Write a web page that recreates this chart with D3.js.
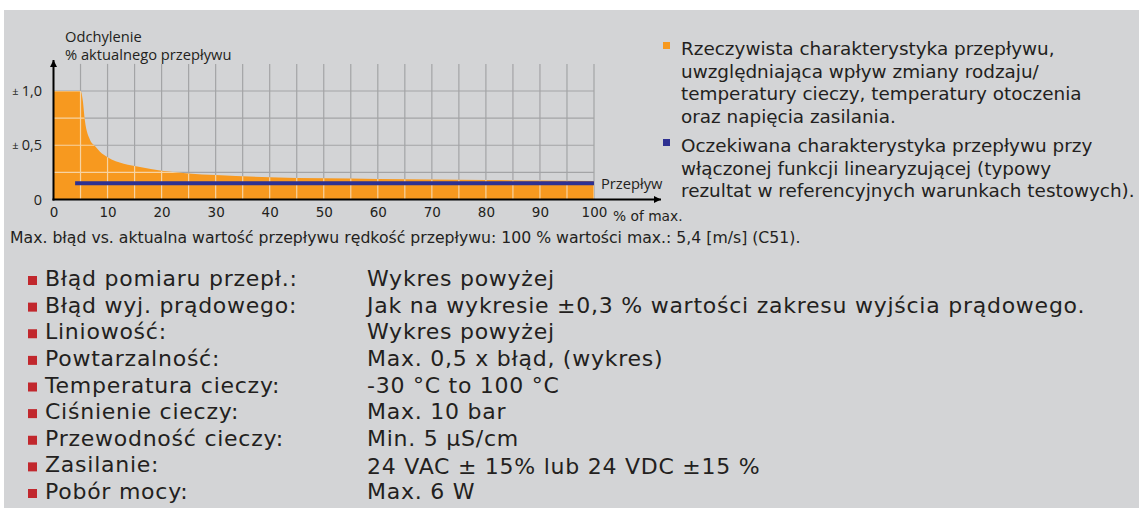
<!DOCTYPE html>
<html>
<head>
<meta charset="utf-8">
<script src="https://cdn.jsdelivr.net/npm/d3@7"></script>
<style>
  html, body { margin: 0; padding: 0; background: #fff; }
  svg { display: block; }
</style>
</head>
<body>
<svg id="chart" width="1139" height="508"></svg>
<script>
const flowPct = [0, 5, 5.4, 5.8, 6.75, 7.7, 8.6, 10, 13, 16, 20, 25, 30, 40, 50, 60, 70, 80, 90, 100];
const deviation = [1, 1, 0.92, 0.73, 0.55, 0.49, 0.44, 0.39, 0.33, 0.3, 0.265, 0.24, 0.225, 0.205, 0.195, 0.19, 0.185, 0.18, 0.175, 0.17];

// linearised characteristic
const linFlow = [4, 100];
const linDev = [0.15, 0.15];

const xTicks = [0, 10, 20, 30, 40, 50, 60, 70, 80, 90, 100];
const yTicks = [0, 0.5, 1];
const yTickLabels = ['0', '0,5', '1,0'];
const gridX = d3.range(5, 101, 5);
const gridY = [0.25, 0.5, 0.75, 1];

const legendItems = [
  { color: '#f7991f', lines: ['Rzeczywista charakterystyka przepływu,', 'uwzględniająca wpływ zmiany rodzaju/', 'temperatury cieczy, temperatury otoczenia', 'oraz napięcia zasilania.'] },
  { color: '#2e3192', lines: ['Oczekiwana charakterystyka przepływu przy', 'włączonej funkcji linearyzującej (typowy', 'rezultat w referencyjnych warunkach testowych).'] },
];

const specLabels = ['Błąd pomiaru przepł.:', 'Błąd wyj. prądowego:', 'Liniowość:', 'Powtarzalność:', 'Temperatura cieczy:', 'Ciśnienie cieczy:', 'Przewodność cieczy:', 'Zasilanie:', 'Pobór mocy:'];
const specValues = ['Wykres powyżej', 'Jak na wykresie ±0,3 % wartości zakresu wyjścia prądowego.', 'Wykres powyżej', 'Max. 0,5 x błąd, (wykres)', '-30 °C to 100 °C', 'Max. 10 bar', 'Min. 5 µS/cm', '24 VAC ± 15% lub 24 VDC ±15 %', 'Max. 6 W'];

const caption = 'Max. błąd vs. aktualna wartość przepływu rędkość przepływu: 100 % wartości max.: 5,4 [m/s] (C51).';

const svg = d3.select('#chart');
const ink = '#231f20';
const chartFont = '"Open Sans", sans-serif';
const textFont = '"DejaVu Sans", Verdana, sans-serif';

// panel background
svg.append('rect')
  .attr('x', 4).attr('y', 10)
  .attr('width', 1135).attr('height', 498)
  .attr('fill', '#d3d4d6');

const x = d3.scaleLinear().domain([0, 100]).range([53.5, 594]);
const y = d3.scaleLinear().domain([0, 1]).range([199.5, 91]);
const yTop = y(1.25);

const area = d3.area()
  .x((d, i) => x(flowPct[i]))
  .y0(y(0))
  .y1((d, i) => y(deviation[i]))
  .curve(d3.curveMonotoneX);

svg.append('defs')
  .call((d) => d.append('clipPath')
    .attr('id', 'areaClip')
    .append('path')
      .attr('d', area(flowPct)))
  .call((d) => d.append('marker')
    .attr('id', 'arrow')
    .attr('viewBox', '0 0 10 10')
    .attr('refX', 10).attr('refY', 5)
    .attr('markerWidth', 10).attr('markerHeight', 7)
    .attr('markerUnits', 'userSpaceOnUse')
    .attr('orient', 'auto')
    .append('path')
      .attr('d', 'M0,0L10,5L0,10Z')
      .attr('fill', '#000'));

// grid, drawn twice: grey on the panel, pale inside the orange area
function drawGrid(g, stroke) {
  g.selectAll('line.gx')
    .data(gridX)
    .join('line')
      .attr('class', 'gx')
      .attr('x1', (d) => x(d)).attr('x2', (d) => x(d))
      .attr('y1', y(0)).attr('y2', yTop)
      .attr('stroke', stroke).attr('stroke-width', 1.2);
  g.selectAll('line.gy')
    .data(gridY)
    .join('line')
      .attr('class', 'gy')
      .attr('x1', x(0)).attr('x2', x(100))
      .attr('y1', (d) => y(d)).attr('y2', (d) => y(d))
      .attr('stroke', stroke).attr('stroke-width', 1.2);
}

svg.append('g').call((g) => drawGrid(g, '#a3a4a6'));

svg.append('path')
  .datum(flowPct)
  .attr('fill', '#f7991f')
  .attr('d', area);

svg.append('g')
  .attr('clip-path', 'url(#areaClip)')
  .call((g) => drawGrid(g, '#f6d3a2'));

// linearised line
svg.append('path')
  .datum(linFlow)
  .attr('fill', 'none')
  .attr('stroke', '#2e3192')
  .attr('stroke-width', 4)
  .attr('d', d3.line()
    .x((d, i) => x(linFlow[i]))
    .y((d, i) => y(linDev[i])));

// axes with arrows
svg.append('line')
  .attr('x1', x(0)).attr('x2', x(0))
  .attr('y1', y(0) + 1).attr('y2', 60)
  .attr('stroke', '#000').attr('stroke-width', 2)
  .attr('marker-end', 'url(#arrow)');
svg.append('line')
  .attr('x1', x(0) - 1).attr('x2', 661)
  .attr('y1', y(0)).attr('y2', y(0))
  .attr('stroke', '#000').attr('stroke-width', 2)
  .attr('marker-end', 'url(#arrow)');

// x tick labels
svg.append('g')
  .attr('transform', `translate(0,${y(0) + 8})`)
  .call(d3.axisBottom(x).tickValues(xTicks).tickSize(0).tickPadding(0).tickFormat(d3.format('d')))
  .call((g) => g.select('.domain').remove())
  .call((g) => g.selectAll('text')
    .attr('font-family', textFont)
    .attr('font-size', 13.5)
    .attr('fill', ink));

svg.append('text')
  .attr('x', x(100) + 19).attr('y', 221)
  .attr('font-family', textFont).attr('font-size', 13.8)
  .attr('fill', ink)
  .text('% of max.');

// y tick labels
svg.append('g')
  .selectAll('text')
  .data(yTicks)
  .join('text')
    .attr('x', 42)
    .attr('y', (d) => y(d) + 5)
    .attr('text-anchor', 'end')
    .attr('font-family', chartFont).attr('font-size', 14.5)
    .attr('fill', ink)
    .call((t) => t.filter((d) => d > 0).append('tspan')
      .attr('font-size', 11)
      .attr('dy', -1)
      .text('±'))
    .call((t) => t.append('tspan')
      .attr('dy', (d) => (d > 0 ? 1 : 0))
      .attr('dx', (d) => (d > 0 ? 3 : 0))
      .text((d, i) => yTickLabels[i]));

// axis titles
svg.append('text')
  .attr('x', 65).attr('y', 42)
  .attr('font-family', chartFont).attr('font-size', 14.7)
  .attr('fill', ink)
  .text('Odchylenie');
svg.append('text')
  .attr('x', 65).attr('y', 60)
  .attr('font-family', chartFont).attr('font-size', 14.7)
  .attr('fill', ink)
  .text('% aktualnego przepływu');
svg.append('text')
  .attr('x', 601).attr('y', 189)
  .attr('font-family', chartFont).attr('font-size', 14.7)
  .attr('fill', ink)
  .text('Przepływ');

// caption
svg.append('text')
  .attr('x', 10).attr('y', 243)
  .attr('font-family', textFont).attr('font-size', 15.7)
  .attr('fill', ink)
  .text(caption);

// legend
const legend = svg.append('g').attr('transform', 'translate(663,0)');
const legendTop = [55, 152];
legendItems.forEach((item, k) => {
  legend.append('rect')
    .attr('x', 0).attr('y', legendTop[k] - 13)
    .attr('width', 7).attr('height', 7)
    .attr('fill', item.color);
  legend.append('g')
    .selectAll('text')
    .data(item.lines)
    .join('text')
      .attr('x', 18)
      .attr('y', (d, i) => legendTop[k] + i * 22.7)
      .attr('font-family', textFont).attr('font-size', 18.4)
      .attr('fill', ink)
      .text((d) => d);
});

// spec list
const rowY = d3.scaleLinear().domain([0, 8]).range([286, 499]);
const specs = svg.append('g')
  .attr('font-family', textFont)
  .attr('font-size', 22)
  .attr('letter-spacing', 0.75)
  .attr('fill', ink);
specs.selectAll('rect')
  .data(specLabels)
  .join('rect')
    .attr('x', 28).attr('y', (d, i) => rowY(i) - 10)
    .attr('width', 9).attr('height', 9)
    .attr('fill', '#c1272d');
specs.selectAll('text.label')
  .data(specLabels)
  .join('text')
    .attr('class', 'label')
    .attr('x', 45).attr('y', (d, i) => rowY(i))
    .text((d) => d);
specs.selectAll('text.value')
  .data(specValues)
  .join('text')
    .attr('class', 'value')
    .attr('x', 367).attr('y', (d, i) => rowY(i) + (i === 7 ? 2 : 0))
    .text((d) => d);
</script>
</body>
</html>
